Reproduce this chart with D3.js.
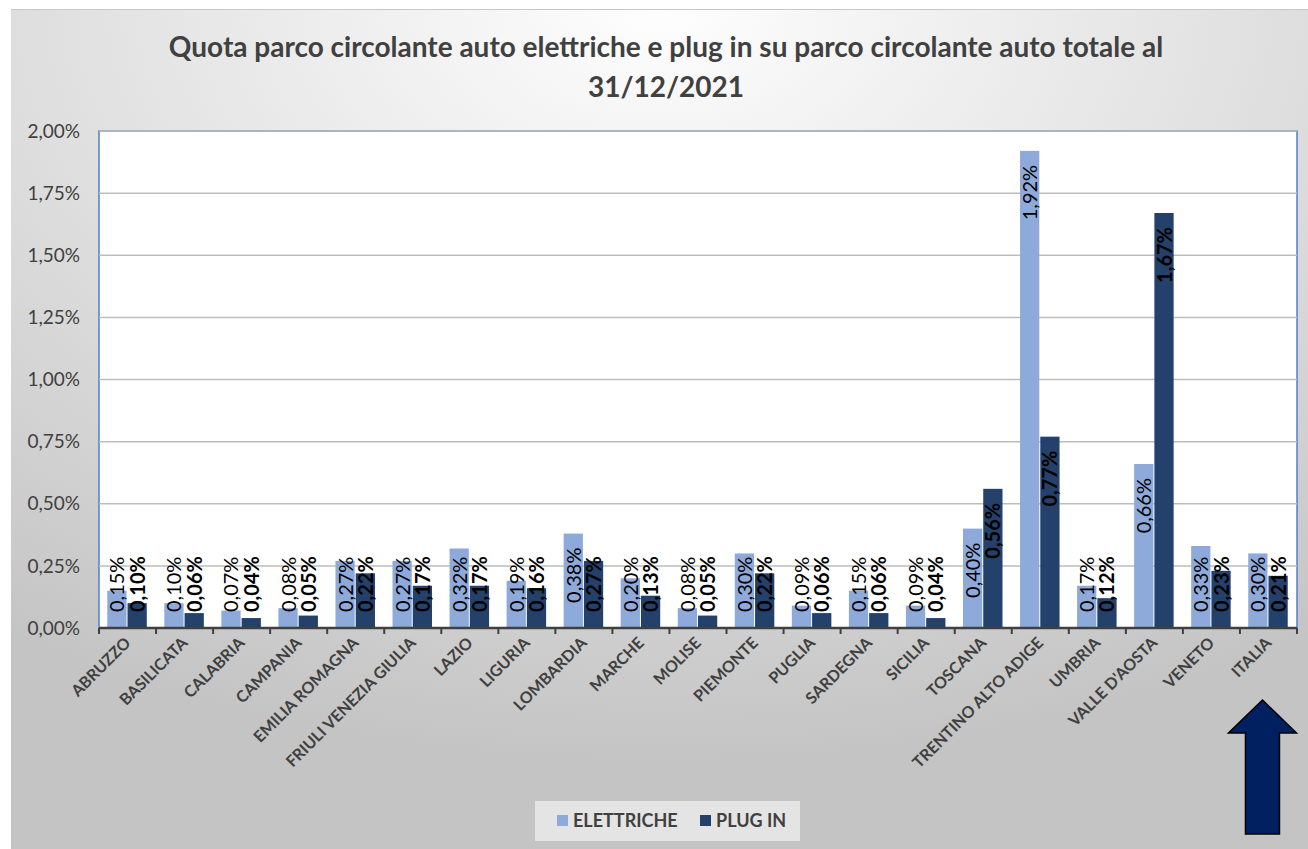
<!DOCTYPE html>
<html>
<head>
<meta charset="utf-8">
<script src="https://cdn.jsdelivr.net/npm/d3@7"></script>
<style>
  html, body { margin: 0; padding: 0; background: #fff; }
  svg { display: block; font-family: Lato, "Open Sans", sans-serif; }
</style>
</head>
<body>
<svg id="chart" width="1308" height="849"></svg>
<script>
const regions = ["ABRUZZO", "BASILICATA", "CALABRIA", "CAMPANIA", "EMILIA ROMAGNA", "FRIULI VENEZIA GIULIA",
  "LAZIO", "LIGURIA", "LOMBARDIA", "MARCHE", "MOLISE", "PIEMONTE", "PUGLIA", "SARDEGNA", "SICILIA",
  "TOSCANA", "TRENTINO ALTO ADIGE", "UMBRIA", "VALLE D'AOSTA", "VENETO", "ITALIA"];
const elettriche = [0.15, 0.10, 0.07, 0.08, 0.27, 0.27, 0.32, 0.19, 0.38, 0.20, 0.08, 0.30, 0.09, 0.15, 0.09,
  0.40, 1.92, 0.17, 0.66, 0.33, 0.30];
const plugIn = [0.10, 0.06, 0.04, 0.05, 0.22, 0.17, 0.17, 0.16, 0.27, 0.13, 0.05, 0.22, 0.06, 0.06, 0.04,
  0.56, 0.77, 0.12, 1.67, 0.23, 0.21];
const yTicks = [0, 0.25, 0.5, 0.75, 1, 1.25, 1.5, 1.75, 2];
const seriesNames = ["ELETTRICHE", "PLUG IN"];
const colors = ["#8eaadb", "#24416b"];

const svg = d3.select("#chart");
const W = 1308, H = 849;
const plot = {left: 99, right: 1297, top: 131, bottom: 628};

// background with gradient
const defs = svg.append("defs");
const grad = defs.append("radialGradient").attr("id", "bg")
  .attr("cx", "50%").attr("cy", "0%").attr("r", "90%")
  .attr("fx", "50%").attr("fy", "0%");
grad.append("stop").attr("offset", "0%").attr("stop-color", "#fefefe");
grad.append("stop").attr("offset", "100%").attr("stop-color", "#c4c4c4");

svg.append("rect").attr("x", 11).attr("y", 10).attr("width", W - 11).attr("height", H - 10)
  .attr("fill", "url(#bg)");
svg.append("line").attr("x1", 11).attr("x2", W).attr("y1", 9.5).attr("y2", 9.5)
  .attr("stroke", "#c8c8c8").attr("stroke-width", 1);

// title
const title = svg.append("text").attr("text-anchor", "middle")
  .attr("font-size", 28).attr("font-weight", "bold").attr("fill", "#404040");
title.append("tspan").attr("x", 666).attr("y", 57)
  .text("Quota parco circolante auto elettriche e plug in su parco circolante auto totale al");
title.append("tspan").attr("x", 666).attr("y", 97).text("31/12/2021");

// scales
const x = d3.scaleBand().domain(regions).range([plot.left, plot.right]);
const y = d3.scaleLinear().domain([0, 2]).range([plot.bottom, plot.top]);
const step = x.step();
const barW = step * 0.355;
const off = step * 0.145;

svg.append("rect").attr("x", plot.left).attr("y", plot.top)
  .attr("width", plot.right - plot.left).attr("height", plot.bottom - plot.top)
  .attr("fill", "#fff").attr("stroke", "#4f7fd0").attr("stroke-width", 1.5);

// gridlines
svg.append("g").selectAll("line").data(yTicks.slice(1)).join("line")
  .attr("x1", plot.left).attr("x2", plot.right)
  .attr("y1", d => y(d)).attr("y2", d => y(d))
  .attr("stroke", "#bdbdbd").attr("stroke-width", 1.5);

// y axis labels
const fmt = v => v.toFixed(2).replace(".", ",") + "%";
svg.append("g").selectAll("text").data(yTicks).join("text")
  .attr("x", 80).attr("y", d => y(d)).attr("dy", "0.35em")
  .attr("text-anchor", "end").attr("font-size", 19).attr("fill", "#404040")
  .text(fmt);

// bars
const series = [elettriche, plugIn];
series.forEach((vals, s) => {
  const g = svg.append("g");
  g.selectAll("rect").data(vals).join("rect")
    .attr("x", (d, i) => x(regions[i]) + off + s * barW)
    .attr("y", d => y(d))
    .attr("width", barW - 1)
    .attr("height", d => y(0) - y(d))
    .attr("fill", colors[s]);
});

// data labels
series.forEach((vals, s) => {
  const g = svg.append("g");
  g.selectAll("text").data(vals).join("text")
    .attr("font-size", 20)
    .attr("font-weight", s === 1 ? "bold" : "normal")
    .attr("fill", "#000")
    .attr("text-anchor", "end")
    .text(fmt)
    .each(function (d, i) {
      const len = this.getComputedTextLength();
      const cx = x(regions[i]) + off + s * barW + barW / 2;
      const yEnd = Math.min(y(d) + 14, y(0) - 16 - len);
      d3.select(this)
        .attr("dy", "0.35em")
        .attr("transform", `translate(${cx},${yEnd}) rotate(-90)`);
    });
});

// x axis
const xAxis = svg.append("g");
xAxis.append("line").attr("x1", plot.left).attr("x2", plot.right)
  .attr("y1", plot.bottom).attr("y2", plot.bottom)
  .attr("stroke", "#404040").attr("stroke-width", 2.5);
xAxis.selectAll("line.tick").data(d3.range(regions.length + 1)).join("line")
  .attr("class", "tick")
  .attr("x1", i => plot.left + i * step).attr("x2", i => plot.left + i * step)
  .attr("y1", plot.bottom).attr("y2", plot.bottom + 6)
  .attr("stroke", "#404040").attr("stroke-width", 2);
xAxis.selectAll("text").data(regions).join("text")
  .attr("text-anchor", "end").attr("font-size", 16).attr("font-weight", "bold")
  .attr("fill", "#404040")
  .attr("transform", d => `translate(${x(d) + step / 2 + 4},${plot.bottom + 16}) rotate(-45)`)
  .text(d => d);

// legend
const leg = svg.append("g");
leg.append("rect").attr("x", 535).attr("y", 801).attr("width", 265).attr("height", 40)
  .attr("fill", "#e4e4e4");
const legX = [557, 700];
seriesNames.forEach((n, s) => {
  leg.append("rect").attr("x", legX[s]).attr("y", 815).attr("width", 11).attr("height", 11)
    .attr("fill", colors[s]);
  leg.append("text").attr("x", legX[s] + 16).attr("y", 821).attr("dy", "0.35em")
    .attr("font-size", 18).attr("font-weight", "bold").attr("fill", "#404040").text(n);
});

// arrow pointing at ITALIA
const ax = x("ITALIA") + step / 2 - 6;
const arrow = [[ax, 700], [ax + 34, 733], [ax + 17, 733], [ax + 17, 834], [ax - 17, 834],
  [ax - 17, 733], [ax - 34, 733]];
svg.append("path").attr("d", d3.line()(arrow) + "Z")
  .attr("fill", "#002060").attr("stroke", "#000").attr("stroke-width", 1.5);
</script>
</body>
</html>
